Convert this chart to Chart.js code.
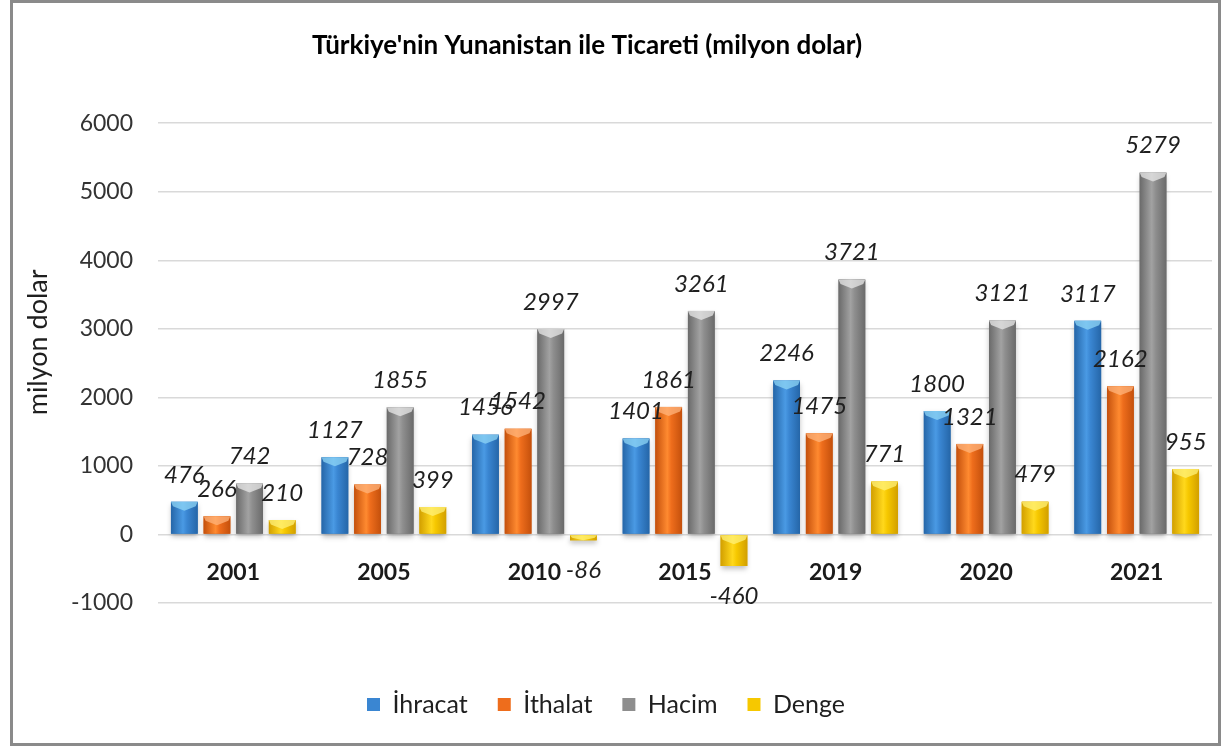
<!DOCTYPE html>
<html lang="tr">
<head>
<meta charset="UTF-8" />
<title>Türkiye'nin Yunanistan ile Ticareti</title>
<script src="https://cdn.jsdelivr.net/npm/chart.js@4"></script>
<style>
  html, body { margin: 0; padding: 0; background: #fff; }
  #wrap { position: relative; width: 1223px; height: 748px; }
  #frame { position: absolute; left: 10px; top: 0; width: 1211px; height: 746px; box-sizing: border-box;
           border: 3px solid #8a8a8a; pointer-events: none; }
</style>
</head>
<body>
<div id="wrap">
  <canvas id="chart" width="1223" height="748"></canvas>
  <div id="frame"></div>
</div>
<script>
const years = ["2001", "2005", "2010", "2015", "2019", "2020", "2021"];
const ihracat = [476, 1127, 1456, 1401, 2246, 1800, 3117];
const ithalat = [266, 728, 1542, 1861, 1475, 1321, 2162];
const hacim = [742, 1855, 2997, 3261, 3721, 3121, 5279];
const denge = [210, 399, -86, -460, 771, 479, 955];

const FONT = "Lato, 'Open Sans', sans-serif";

// edge / center / cap colours per series
const shades = [
  { base: "#3a86d2", edge: "#2566a8", mid: "#4a9ae4", cap: "#8fd6f6" },
  { base: "#ee6d1c", edge: "#c4500c", mid: "#ff8a30", cap: "#ffb47c" },
  { base: "#8e8e8e", edge: "#6a6a6a", mid: "#a2a2a2", cap: "#e8e8e8" },
  { base: "#f6c800", edge: "#d29f00", mid: "#ffd81c", cap: "#fff27a" },
];

const barLook = {
  id: "barLook",
  afterDatasetsDraw(chart) {
    const ctx = chart.ctx;
    chart.data.datasets.forEach((ds, di) => {
      const meta = chart.getDatasetMeta(di);
      const s = shades[di];
      meta.data.forEach((el) => {
        const w = el.width;
        const x0 = el.x - w / 2, x1 = el.x + w / 2;
        const top = Math.min(el.y, el.base), bot = Math.max(el.y, el.base);
        ctx.save();
        ctx.shadowColor = "rgba(0,0,0,0.25)";
        ctx.shadowBlur = 5;
        ctx.shadowOffsetY = 3;
        const g = ctx.createLinearGradient(x0, 0, x1, 0);
        g.addColorStop(0, s.edge);
        g.addColorStop(0.45, s.mid);
        g.addColorStop(0.6, s.base);
        g.addColorStop(1, s.edge);
        ctx.fillStyle = g;
        ctx.fillRect(x0, top, w, bot - top);
        ctx.restore();
        // bevelled top
        const h = Math.min(9, (bot - top));
        ctx.save();
        ctx.fillStyle = s.cap;
        ctx.beginPath();
        ctx.moveTo(x0, top);
        ctx.lineTo(x1, top);
        ctx.lineTo(x1 - 2, top + h * 0.5);
        ctx.lineTo(el.x, top + h);
        ctx.lineTo(x0 + 2, top + h * 0.5);
        ctx.closePath();
        ctx.globalAlpha = 0.75;
        ctx.fill();
        ctx.restore();
      });
    });
    // value labels
    ctx.save();
    ctx.font = "italic 24px " + FONT;
    ctx.fillStyle = "#1f1f1f";
    ctx.textAlign = "center";
    ctx.textBaseline = "middle";
    chart.data.datasets.forEach((ds, di) => {
      const meta = chart.getDatasetMeta(di);
      meta.data.forEach((el, i) => {
        const v = ds.data[i];
        const y = v >= 0 ? el.y - 27 : el.y + 30;
        ctx.fillText(String(v), el.x, y);
      });
    });
    ctx.restore();
  },
};

new Chart(document.getElementById("chart"), {
  type: "bar",
  data: {
    labels: years,
    datasets: [
      { label: "İhracat", data: ihracat, backgroundColor: shades[0].base },
      { label: "İthalat", data: ithalat, backgroundColor: shades[1].base },
      { label: "Hacim", data: hacim, backgroundColor: shades[2].base },
      { label: "Denge", data: denge, backgroundColor: shades[3].base },
    ],
  },
  options: {
    responsive: false,
    animation: false,
    events: [],
    categoryPercentage: 0.867,
    barPercentage: 0.82,
    layout: { padding: { left: 0, right: 11, top: 0, bottom: 21 } },
    plugins: {
      title: {
        display: true,
        text: "Türkiye'nin Yunanistan ile Ticareti (milyon dolar)      ",
        color: "#000",
        font: { family: FONT, size: 26, weight: "bold" },
        padding: { top: 30, bottom: 62 },
      },
      legend: {
        position: "bottom",
        title: { display: true, text: "", font: { size: 10, lineHeight: 1 }, padding: { top: 49, bottom: 0 } },
        labels: {
          color: "#1f1f1f",
          font: { family: FONT, size: 25 },
          boxWidth: 13,
          boxHeight: 13,
          padding: 30,
        },
      },
      tooltip: { enabled: false },
    },
    scales: {
      x: {
        position: { y: 0 },
        grid: { display: false, drawTicks: false },
        border: { display: false },
        ticks: { color: "#1a1a1a", font: { family: FONT, size: 23, weight: "bold" }, padding: 24 },
      },
      y: {
        min: -1000,
        max: 6000,
        afterFit: (scale) => { scale.width = 158; },
        grid: { color: "#d9d9d9", lineWidth: 1.5, drawTicks: false },
        border: { display: false },
        ticks: {
          stepSize: 1000,
          color: "#333",
          font: { family: FONT, size: 23 },
          padding: 25,
          callback: (v) => String(v),
        },
        title: {
          display: true,
          text: "      milyon dolar",
          color: "#1f1f1f",
          font: { family: FONT, size: 27 },
          padding: { top: 22, bottom: 0 },
        },
      },
    },
  },
  plugins: [barLook],
});
</script>
</body>
</html>
